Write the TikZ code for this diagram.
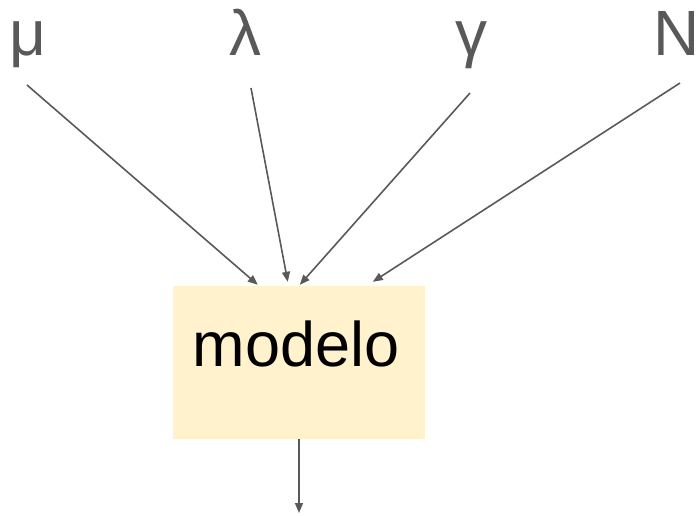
\documentclass[tikz,border=0pt]{standalone}
\usepackage{fontspec}
\setmainfont{Liberation Sans}
\usetikzlibrary{arrows.meta}
\definecolor{ink}{HTML}{595959}
\definecolor{boxfill}{HTML}{FFF2CC}
\tikzset{
  param/.style={text=ink, font=\fontsize{64}{70}\selectfont, anchor=base, inner sep=0pt},
  modelbox/.style={fill=boxfill, draw=none, minimum width=252pt, minimum height=153pt, inner sep=0pt},
  flow/.style={draw=ink, line width=1.6pt, -{Triangle[length=10pt,width=8pt]}}
}
\begin{document}
\begin{tikzpicture}[x=1pt,y=-1pt]
  \useasboundingbox (0,0) rectangle (699,515);
  % parameter labels
  \node[param] (mu) at (28,55) {μ};
  \node[param] (lambda) at (245,55) {λ};
  \node[param] (gamma) at (471,55) {γ};
  \node[param] (n) at (677,55) {N};
  % model box
  \node[modelbox] (box) at (299,362.5) {};
  \node[anchor=base, inner sep=0pt, font=\fontsize{63}{70}\selectfont] (boxtext) at (296,366) {modelo};
  % arrow tails
  \coordinate (mus) at (27,85);
  \coordinate (las) at (251,88);
  \coordinate (gas) at (470,93);
  \coordinate (ns) at (680,83);
  \coordinate (out) at (299,513);
  % inputs into the model
  \draw[flow] (mus) -- ([xshift=85pt,yshift=1pt]box.north west);
  \draw[flow] (las) -- ([xshift=115pt,yshift=4pt]box.north west);
  \draw[flow] (gas) -- ([xshift=127pt,yshift=1pt]box.north west);
  \draw[flow] (ns) -- ([xshift=200pt,yshift=4pt]box.north west);
  % output
  \draw[flow] (box.south) -- (out);
\end{tikzpicture}
\end{document}
